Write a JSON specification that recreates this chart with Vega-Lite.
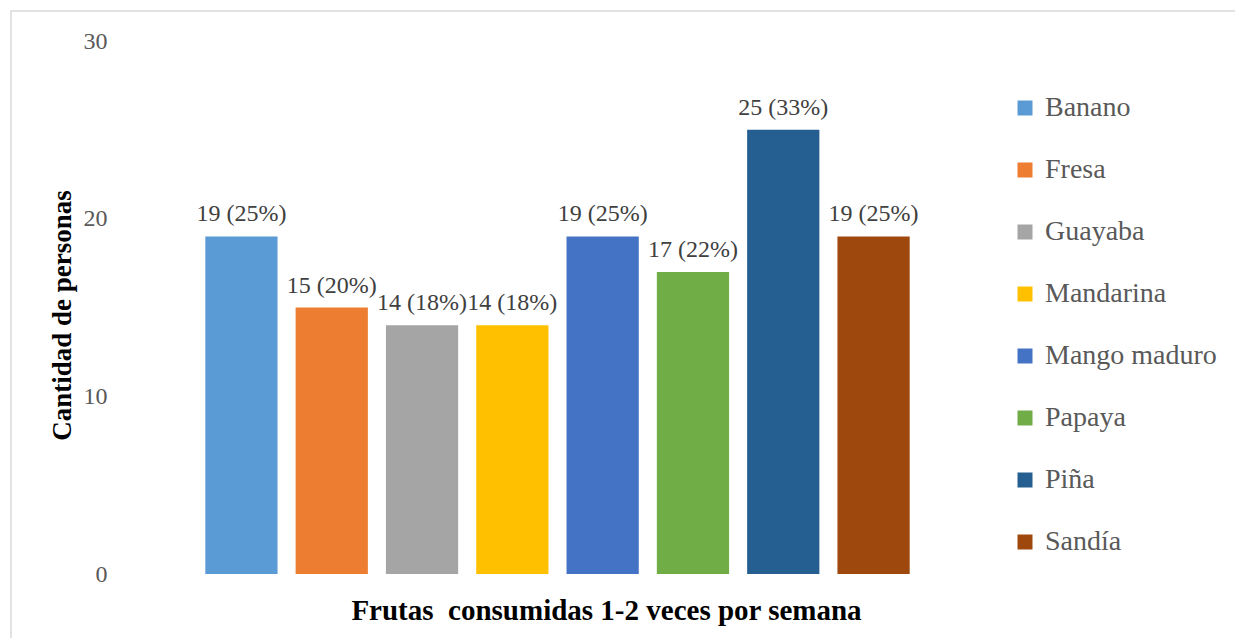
{
  "$schema": "https://vega.github.io/schema/vega-lite/v6.json",
  "autosize": {"type": "none"},
  "padding": {"left": 11, "top": 11, "right": 0, "bottom": 0},
  "width": 1235,
  "height": 640,
  "background": "white",
  "config": {
    "font": "Liberation Serif",
    "view": {"stroke": "#d9d9d9", "strokeWidth": 1.5}
  },
  "data": {
    "values": [
      {"fruta": "Banano", "cantidad": 19, "etiqueta": "19 (25%)"},
      {"fruta": "Fresa", "cantidad": 15, "etiqueta": "15 (20%)"},
      {"fruta": "Guayaba", "cantidad": 14, "etiqueta": "14 (18%)"},
      {"fruta": "Mandarina", "cantidad": 14, "etiqueta": "14 (18%)"},
      {"fruta": "Mango maduro", "cantidad": 19, "etiqueta": "19 (25%)"},
      {"fruta": "Papaya", "cantidad": 17, "etiqueta": "17 (22%)"},
      {"fruta": "Piña", "cantidad": 25, "etiqueta": "25 (33%)"},
      {"fruta": "Sandía", "cantidad": 19, "etiqueta": "19 (25%)"}
    ]
  },
  "encoding": {
    "x": {
      "field": "fruta",
      "type": "nominal",
      "sort": null,
      "scale": {"range": [104, 989], "paddingInner": 0.2, "paddingOuter": 1.0},
      "axis": {
        "title": "Frutas\u00a0 consumidas 1-2 veces por semana",
        "labels": false,
        "ticks": false,
        "domain": false,
        "offset": -77,
        "titleFontSize": 29,
        "titleFontWeight": "bold",
        "titleColor": "#000000",
        "titleX": 595,
        "titleY": 36,
        "titleAlign": "center",
        "titleBaseline": "middle"
      }
    },
    "y": {
      "field": "cantidad",
      "type": "quantitative",
      "scale": {"domain": [0, 30], "range": [563, 30], "nice": false},
      "axis": {
        "title": "Cantidad de personas",
        "values": [0, 10, 20, 30],
        "grid": false,
        "ticks": false,
        "domain": false,
        "offset": -104,
        "labelPadding": 8,
        "labelFontSize": 24,
        "labelColor": "#595959",
        "titleFontSize": 27,
        "titleFontWeight": "bold",
        "titleColor": "#000000",
        "titleX": -53,
        "titleY": 304,
        "titleAngle": -90,
        "titleAlign": "center",
        "titleBaseline": "middle"
      }
    }
  },
  "layer": [
    {
      "mark": {"type": "bar"},
      "encoding": {
        "color": {
          "field": "fruta",
          "type": "nominal",
          "sort": null,
          "scale": {
            "domain": ["Banano", "Fresa", "Guayaba", "Mandarina", "Mango maduro", "Papaya", "Piña", "Sandía"],
            "range": ["#5B9BD5", "#ED7D31", "#A5A5A5", "#FFC000", "#4472C4", "#70AD47", "#255E91", "#9E480E"]
          },
          "legend": {
            "title": null,
            "orient": "none",
            "legendX": 1000,
            "legendY": 83,
            "padding": 0,
            "symbolType": "square",
            "symbolSize": 225,
            "symbolStrokeWidth": 0,
            "labelFont": "Liberation Serif",
            "labelFontSize": 28,
            "labelColor": "#595959",
            "labelOffset": 6,
            "rowPadding": 34,
            "labelLimit": 300
          }
        }
      }
    },
    {
      "mark": {"type": "text", "baseline": "bottom", "dy": -10, "fontSize": 24, "font": "Liberation Serif", "color": "#404040"},
      "encoding": {
        "text": {"field": "etiqueta", "type": "nominal"}
      }
    }
  ]
}
